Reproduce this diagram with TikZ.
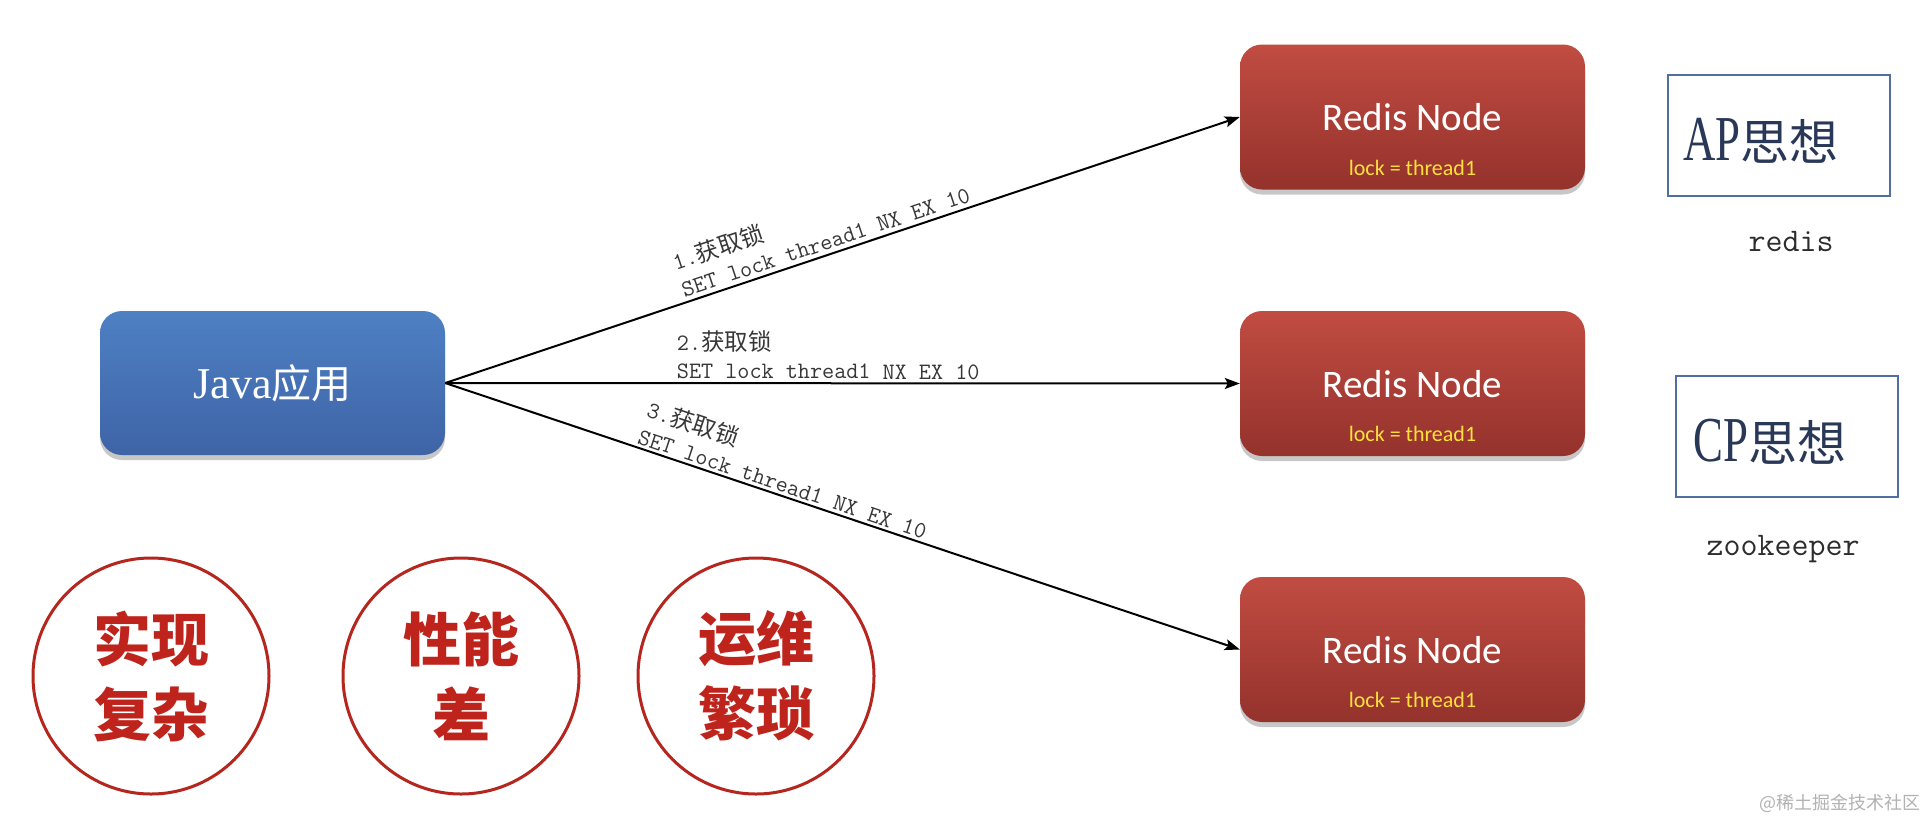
\documentclass[tikz,border=0pt]{standalone}
\usepackage{fontspec}
\usepackage{graphicx}
\usetikzlibrary{arrows.meta,shadows}
\setmainfont{Liberation Serif}
\newfontfamily\cjk{Noto Sans CJK SC}
\newfontfamily\cali{Carlito}
\newcommand\fsz[2]{\fontsize{#1}{#2}\selectfont}
\definecolor{javatop}{RGB}{78,128,196}
\definecolor{javabot}{RGB}{62,100,166}
\definecolor{redtop}{RGB}{193,76,66}
\definecolor{redbot}{RGB}{148,50,44}
\definecolor{lockyel}{RGB}{255,224,60}
\definecolor{apblue}{RGB}{80,110,160}
\definecolor{aptext}{RGB}{42,56,88}
\definecolor{circred}{RGB}{180,38,30}
\definecolor{circtext}{RGB}{190,36,28}
\definecolor{labgray}{RGB}{55,55,55}
\definecolor{notegray}{RGB}{45,45,45}
\begin{document}
\begin{tikzpicture}[x=1pt,y=-1pt,
  boxshadow/.style={drop shadow={shadow xshift=0pt,shadow yshift=-5pt,opacity=0.22,fill=black}},
  javabox/.style={rounded corners=22pt,minimum width=345pt,minimum height=144pt,top color=javatop,bottom color=javabot,boxshadow,text=white,inner sep=0pt},
  redbox/.style={rounded corners=22pt,minimum width=345pt,minimum height=145pt,top color=redtop,bottom color=redbot,boxshadow,inner sep=0pt},
  redtitle/.style={anchor=base,text=white,font=\cali\fsz{39}{39},inner sep=0pt},
  locktxt/.style={anchor=base,text=lockyel,font=\cali\fsz{22}{22},inner sep=0pt},
  arr/.style={draw=black,line width=2pt,-{Stealth[length=15pt,width=11pt,inset=3pt]}},
  lab/.style={sloped,above,align=left,text=labgray,font=\fsz{23.5}{28},inner sep=4pt},
  thinkbox/.style={draw=apblue,line width=2pt,minimum width=222pt,minimum height=121pt,inner sep=0pt},
  thinktxt/.style={anchor=base west,text=aptext,inner sep=0pt},
  note/.style={text=notegray,font=\ttfamily\fsz{33}{33},inner sep=0pt},
  badge/.style={circle,draw=circred,line width=3pt,minimum size=236pt,inner sep=0pt,align=center,text=circtext,font=\cjk\bfseries\fsz{58}{75}},
]
\useasboundingbox (0,0) rectangle (1927,825);
\fill[white] (0,0) rectangle (1927,825);

% Java application
\node[javabox] (java) at (272.5,383) {{\fsz{44}{50}Java}{\cjk\fsz{40}{50}应用}};

% Redis nodes
\foreach \i/\y in {1/117,2/383.5,3/649.5}{
  \node[redbox] (r\i) at (1412.5,\y) {};
  \node[redtitle] (r\i t) at (1412.5,\y+13.5) {Redis Node};
  \node[locktxt] (r\i l) at (1412.5,\y+58) {lock = thread1};
}

% connectors
\draw[arr] (java.east) -- (r1.west)
  node[lab,pos=0.484] (lab1) {{\ttfamily 1.}{\cjk 获取锁}\\{\ttfamily SET lock thread1 NX EX 10}};
\draw[arr] (java.east) -- (r2.west)
  node[lab,pos=0.482,inner sep=3pt] (lab2) {{\ttfamily 2.}{\cjk 获取锁}\\{\ttfamily SET lock thread1 NX EX 10}};
\draw[arr] (java.east) -- (r3.west)
  node[lab,pos=0.42,inner sep=2.5pt] (lab3) {{\ttfamily 3.}{\cjk 获取锁}\\{\ttfamily SET lock thread1 NX EX 10}};

% AP / CP boxes
\node[thinkbox] (ap) at (1778.5,135.5) {};
\node[thinktxt] (apt) at (1683,160) {\scalebox{0.7}[1]{\fsz{64}{64}AP}{\cjk\fsz{49}{49}思想}};
\node[note] (redis) at (1791,242) {redis};
\node[thinkbox] (cp) at (1786.5,436.5) {};
\node[thinktxt] (cpt) at (1693,461) {\scalebox{0.7}[1]{\fsz{64}{64}CP}{\cjk\fsz{49}{49}思想}};
\node[note] (zk) at (1783,549) {zookeeper};

% drawback circles
\node[badge] (c1) at (151,676) {实现\\复杂};
\node[badge] (c2) at (461,676) {性能\\差};
\node[badge] (c3) at (756,676) {运维\\繁琐};

% watermark
\node[anchor=east,text=black!30,font=\cjk\fsz{18}{18},inner sep=0pt] (wm) at (1921,803) {@稀土掘金技术社区};
\end{tikzpicture}
\end{document}
